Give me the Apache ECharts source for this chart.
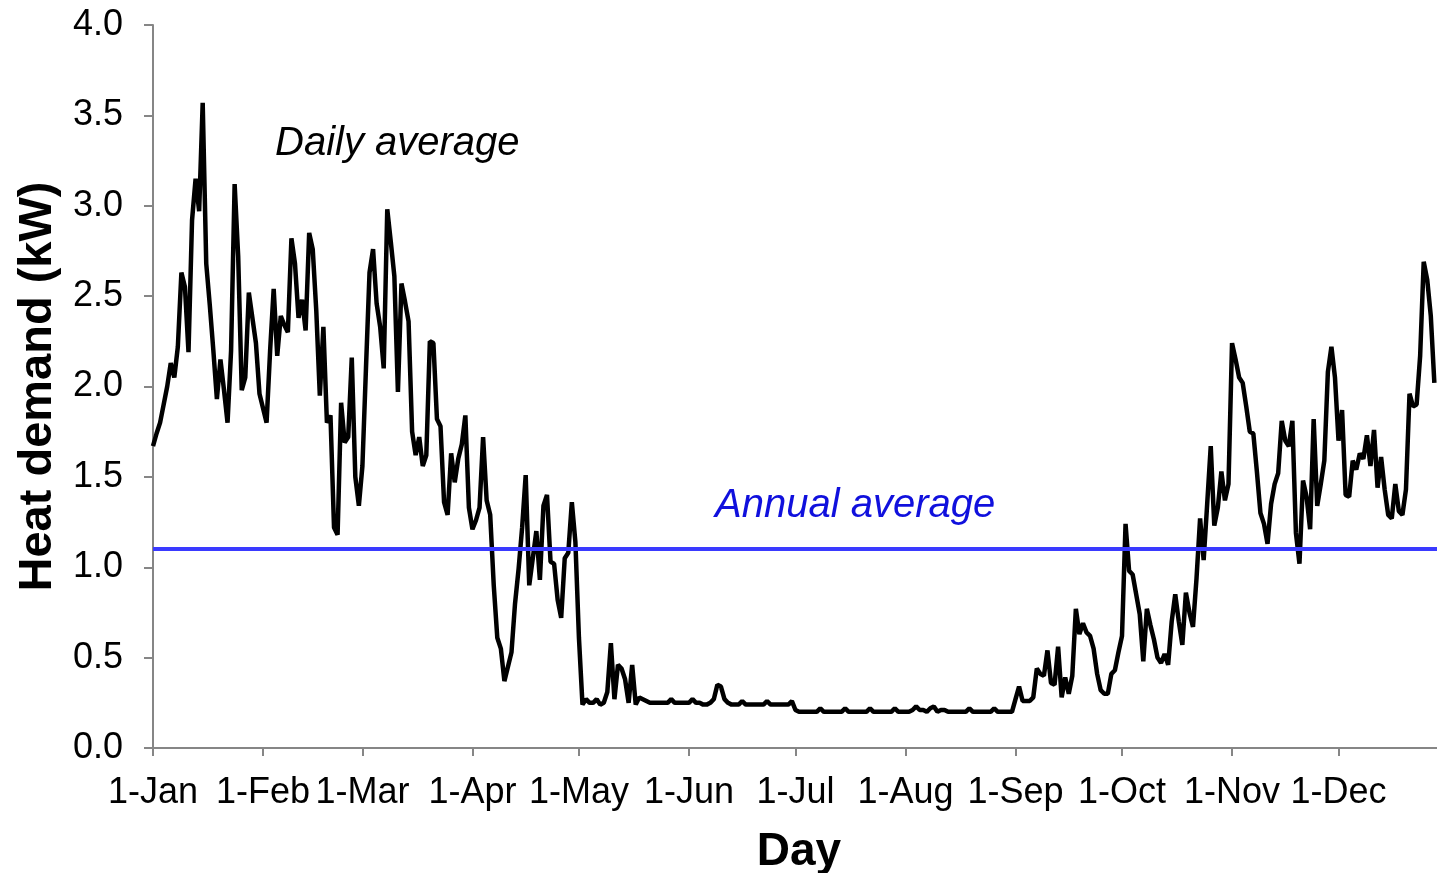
<!DOCTYPE html>
<html lang="en">

<head>
    <meta charset="UTF-8">
    <title>Heat demand</title>
    <script src="https://cdn.jsdelivr.net/npm/echarts@6/dist/echarts.min.js"></script>
    <style>
        body {
            margin: 0;
            background: #fff;
        }

        .frame {
            width: 1437px;
            height: 873px;
            overflow: hidden;
        }

        /* a bit wider than the frame: the last days run off the right edge */
        #main {
            width: 1445px;
            height: 873px;
        }
    </style>
</head>

<body>
    <div class="frame">
        <div id="main"></div>
    </div>
    <script>
        // month names and lengths -> day categories (1-Jan ... 31-Dec)
        var monthNames = ['Jan', 'Feb', 'Mar', 'Apr', 'May', 'Jun', 'Jul', 'Aug', 'Sep', 'Oct', 'Nov', 'Dec'];
        var monthDays = [31, 28, 31, 30, 31, 30, 31, 31, 30, 31, 30, 31];

        // daily average heat demand (kW), from 1-Jan
        var janFeb = [1.67, 1.74, 1.80, 1.90, 2.00, 2.13, 2.05, 2.22, 2.63, 2.55,
            2.19, 2.92, 3.15, 2.97, 3.57, 2.68, 2.45, 2.20, 1.93, 2.15,
            1.98, 1.80, 2.20, 3.12, 2.72, 1.98, 2.05, 2.52, 2.38, 2.24,
            1.96, 1.88, 1.80, 2.20, 2.54, 2.17, 2.39, 2.34, 2.30, 2.82,
            2.68, 2.38, 2.48, 2.31, 2.85, 2.76, 2.42, 1.95, 2.33, 1.80,
            1.84, 1.22, 1.18, 1.91, 1.69, 1.72, 2.16, 1.50, 1.34];
        var marApr = [1.56, 2.10, 2.63, 2.76, 2.46, 2.33, 2.10, 2.98, 2.80, 2.61,
            1.97, 2.57, 2.47, 2.36, 1.75, 1.62, 1.72, 1.56, 1.62, 2.25,
            2.24, 1.82, 1.78, 1.36, 1.29, 1.63, 1.47, 1.60, 1.68, 1.84,
            1.33, 1.21, 1.26, 1.33, 1.72, 1.37, 1.29, 0.90, 0.61, 0.55,
            0.37, 0.45, 0.53, 0.80, 0.99, 1.22, 1.51, 0.90, 1.05, 1.20,
            0.93, 1.34, 1.40, 1.03, 1.02, 0.82, 0.72, 1.05, 1.08, 1.36,
            1.14];
        var mayJun = [0.61, 0.24, 0.27, 0.25, 0.25, 0.27, 0.24, 0.25, 0.31, 0.58,
            0.27, 0.46, 0.44, 0.38, 0.25, 0.46, 0.24, 0.28, 0.27, 0.26,
            0.25, 0.25, 0.25, 0.25, 0.25, 0.25, 0.27, 0.25, 0.25, 0.25,
            0.25, 0.25, 0.27, 0.25, 0.25, 0.24, 0.24, 0.25, 0.27, 0.35,
            0.34, 0.27, 0.25, 0.24, 0.24, 0.24, 0.26, 0.24, 0.24, 0.24,
            0.24, 0.24, 0.24, 0.26, 0.24, 0.24, 0.24, 0.24, 0.24, 0.24,
            0.26];
        var julAug = [0.21, 0.20, 0.20, 0.20, 0.20, 0.20, 0.20, 0.22, 0.20, 0.20,
            0.20, 0.20, 0.20, 0.20, 0.22, 0.20, 0.20, 0.20, 0.20, 0.20,
            0.20, 0.22, 0.20, 0.20, 0.20, 0.20, 0.20, 0.20, 0.22, 0.20,
            0.20, 0.20, 0.20, 0.21, 0.23, 0.21, 0.21, 0.20, 0.22, 0.23,
            0.20, 0.21, 0.21, 0.20, 0.20, 0.20, 0.20, 0.20, 0.20, 0.22,
            0.20, 0.20, 0.20, 0.20, 0.20, 0.20, 0.22, 0.20, 0.20, 0.20,
            0.20, 0.20];
        var sepOct = [0.27, 0.34, 0.26, 0.26, 0.26, 0.28, 0.44, 0.41, 0.40, 0.54,
            0.36, 0.35, 0.56, 0.28, 0.39, 0.30, 0.40, 0.77, 0.63, 0.69,
            0.64, 0.62, 0.55, 0.41, 0.32, 0.30, 0.30, 0.41, 0.43, 0.53,
            0.62, 1.24, 0.98, 0.96, 0.85, 0.74, 0.48, 0.77, 0.68, 0.60,
            0.50, 0.47, 0.52, 0.46, 0.70, 0.85, 0.70, 0.57, 0.86, 0.75,
            0.67, 0.94, 1.27, 1.04, 1.35, 1.67, 1.23, 1.33, 1.53, 1.37,
            1.46];
        var novDec = [2.24, 2.15, 2.05, 2.02, 1.89, 1.75, 1.74, 1.53, 1.30, 1.24,
            1.13, 1.35, 1.46, 1.52, 1.81, 1.70, 1.67, 1.81, 1.19, 1.02,
            1.48, 1.39, 1.21, 1.82, 1.34, 1.46, 1.59, 2.08, 2.22, 2.05,
            1.70, 1.87, 1.40, 1.39, 1.59, 1.54, 1.63, 1.60, 1.73, 1.56,
            1.76, 1.44, 1.61, 1.43, 1.29, 1.27, 1.46, 1.31, 1.29, 1.43,
            1.96, 1.89, 1.90, 2.17, 2.69, 2.59, 2.39, 2.02];

        var annualAverage = 1.1;

        var days = [];
        for (var m = 0; m < 12; m++) {
            for (var d = 1; d <= monthDays[m]; d++) {
                days.push(d + '-' + monthNames[m]);
            }
        }
        var daily = janFeb.concat(marApr, mayJun, julAug, sepOct, novDec);

        var myChart = echarts.init(document.getElementById('main'));
        var font = 'Liberation Sans, Arial, sans-serif';
        var axisGray = '#868686';
        // only the first of each month gets a tick and label
        var firstOfMonth = function (idx, val) {
            return val.indexOf('1-') === 0;
        };

        var option = {
            animation: false,
            grid: {
                left: 153,
                right: 0,
                top: 25,
                bottom: 125,
                outerBoundsMode: 'none' // keep the grid where it is, names may reach the edge
            },
            xAxis: {
                type: 'category',
                data: days,
                boundaryGap: false,
                name: 'Day',
                nameLocation: 'middle',
                nameGap: 81,
                nameTextStyle: {
                    fontFamily: font,
                    fontSize: 46,
                    fontWeight: 'bold',
                    color: '#000'
                },
                axisLine: { lineStyle: { color: axisGray, width: 2 } },
                axisTick: {
                    interval: firstOfMonth,
                    length: 8,
                    lineStyle: { color: axisGray, width: 2 }
                },
                axisLabel: {
                    interval: firstOfMonth,
                    fontFamily: font,
                    fontSize: 36,
                    color: '#000',
                    margin: 27
                },
                splitLine: { show: false }
            },
            yAxis: {
                type: 'value',
                min: 0,
                max: 4,
                interval: 0.5,
                name: 'Heat demand (kW)',
                nameLocation: 'middle',
                nameGap: 91,
                nameTextStyle: {
                    fontFamily: font,
                    fontSize: 47,
                    fontWeight: 'bold',
                    color: '#000'
                },
                axisLine: { show: true, lineStyle: { color: axisGray, width: 2 } },
                axisTick: { show: true, length: 9, lineStyle: { color: axisGray, width: 2 } },
                axisLabel: {
                    formatter: function (v) { return v.toFixed(1); },
                    fontFamily: font,
                    fontSize: 36,
                    color: '#000',
                    margin: 30
                },
                splitLine: { show: false }
            },
            series: [{
                name: 'Daily average',
                type: 'line',
                data: daily,
                showSymbol: false,
                lineStyle: { color: '#000', width: 4.5 },
                markLine: {
                    silent: true,
                    symbol: ['none', 'none'],
                    label: { show: false },
                    lineStyle: { color: '#3a3aff', width: 4, type: 'solid' },
                    data: [{ yAxis: annualAverage }]
                },
                z: 3
            }],
            graphic: [{
                type: 'text',
                left: 275,
                top: 124,
                style: {
                    text: 'Daily average',
                    font: 'italic 40px ' + font,
                    fill: '#000'
                }
            }, {
                type: 'text',
                left: 715,
                top: 486,
                style: {
                    text: 'Annual average',
                    font: 'italic 40px ' + font,
                    fill: '#1010dd'
                }
            }]
        };

        myChart.setOption(option);
    </script>
</body>

</html>
